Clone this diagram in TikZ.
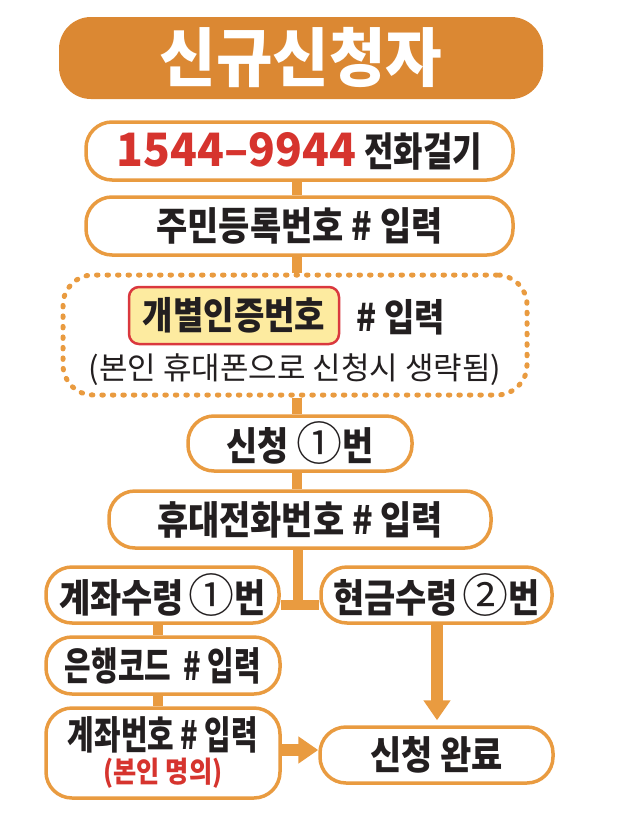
\documentclass[tikz,border=0pt]{standalone}
\usepackage{fontspec}
\usetikzlibrary{arrows.meta,backgrounds,calc}
\newfontfamily\kr[FakeStretch=0.87]{Noto Sans CJK KR}
\newfontfamily\krn[FakeStretch=0.8]{Noto Sans CJK KR}
\newfontfamily\krc[FakeStretch=0.74]{Noto Sans CJK KR}
\newfontfamily\krw{Noto Sans CJK KR}
\newfontfamily\krt[FakeStretch=0.96]{Noto Sans CJK KR}
\newfontfamily\numf[FakeStretch=0.96]{Noto Sans CJK KR}
\newfontfamily\circf{Noto Sans CJK KR}
\definecolor{titleor}{RGB}{219,136,51}
\definecolor{lineor}{RGB}{233,155,64}
\definecolor{numred}{RGB}{214,52,46}
\definecolor{ink}{RGB}{35,31,32}
\definecolor{yelfill}{RGB}{253,235,160}
\definecolor{yelline}{RGB}{218,56,62}
\newcommand{\cnum}[1]{{\circf\mdseries\fontsize{46}{46}\selectfont #1}}
\tikzset{
  box/.style={draw=lineor, line width=3.5pt, fill=white, rounded corners=26pt,
    inner sep=0pt, text=ink, font=\kr\bfseries\fontsize{39}{42}\selectfont},
  conn/.style={draw=lineor, line width=10pt},
  bigarrow/.style={draw=lineor, line width=12pt, -{Triangle[length=20pt,width=26pt]}},
}
\begin{document}
\begin{tikzpicture}[x=1pt,y=-1pt]
\useasboundingbox (0,0) rectangle (618,822);
% title
\node[fill=titleor, rounded corners=32pt, minimum width=484pt, minimum height=82pt,
  inner sep=0pt, text=white, font=\krt\bfseries\fontsize{64}{66}\selectfont]
  (title) at (301,58) {신규신청자};
% main column
\node[box, minimum width=427pt, minimum height=58pt] (b1) at (299.5,151)
  {{\numf\bfseries\color{numred}\fontsize{46}{48}\selectfont 1544–9944}\hspace{8pt}{\krn\fontsize{40}{42}\selectfont 전화걸기}};
\node[box, minimum width=427pt, minimum height=58pt] (b2) at (299.5,226)
  {주민등록번호 \# 입력};
\node[draw=lineor, line width=5pt, dash pattern=on 1.5pt off 9pt, line cap=round,
  fill=white, rounded corners=30pt, minimum width=464pt, minimum height=120pt, inner sep=0pt]
  (d) at (295,335) {};
\node[draw=yelline, line width=2.5pt, fill=yelfill, rounded corners=10pt,
  minimum width=210pt, minimum height=57pt, inner sep=0pt, text=ink,
  font=\kr\bfseries\fontsize{38}{40}\selectfont] (y1) at (234,315.5) {개별인증번호};
\node[inner sep=0pt, text=ink, font=\kr\bfseries\fontsize{38}{40}\selectfont]
  (y2) at (401,317) {\# 입력};
\node[inner sep=0pt, text=ink, font=\krw\fontsize{31}{33}\selectfont]
  (y3) at (295,370) {(본인 휴대폰으로 신청시 생략됨)};
\node[box, minimum width=224pt, minimum height=55pt] (b3) at (300,443.5)
  {신청 \cnum{①}번};
\node[box, minimum width=382pt, minimum height=57pt] (b4) at (300,519.5)
  {휴대전화번호 \# 입력};
% branches
\node[box, minimum width=233pt, minimum height=56pt] (L1) at (162.5,595)
  {계좌수령\hspace{-3pt} \cnum{①}번};
\node[box, minimum width=231pt, minimum height=56pt] (R1) at (436.5,595)
  {현금수령\hspace{-3pt} \cnum{②}번};
\node[box, minimum width=234pt, minimum height=57pt, font=\krc\bfseries\fontsize{39}{42}\selectfont]
  (L2) at (163,665.5) {은행코드\hspace{6pt} \# 입력};
\node[box, minimum width=234pt, minimum height=90pt, align=center,
  font=\krc\bfseries\fontsize{39}{42}\selectfont] (L3) at (163,753)
  {계좌번호 \# 입력\\[-9pt]{\kr\color{numred}\fontsize{29}{31}\selectfont (본인 명의)}};
\node[box, minimum width=233pt, minimum height=56pt] (F) at (436.5,755)
  {신청 완료};
% connectors
\coordinate (sp) at (297,0);
\coordinate (jn) at (298,605);
\coordinate (lsp) at (158,0);
\coordinate (ay) at (0,750);
\coordinate (ax) at (437,0);
\begin{scope}[on background layer]
\draw[conn] (b1.south -| sp) -- (b2.north -| sp);
\draw[conn] (b2.south -| sp) -- (d.north -| sp);
\draw[conn] (d.south -| sp) -- (b3.north -| sp);
\draw[conn] (b3.south -| sp) -- (b4.north -| sp);
\draw[conn] (b4.south -| jn) -- (jn);
\draw[conn] (L1.east |- jn) -- (R1.west |- jn);
\draw[conn] (L1.south -| lsp) -- (L2.north -| lsp);
\draw[conn] (L2.south -| lsp) -- (L3.north -| lsp);
\draw[bigarrow] (L3.east |- ay) -- (F.west |- ay);
\draw[bigarrow, shorten >=5pt] (R1.south -| ax) -- (F.north -| ax);
\end{scope}
\end{tikzpicture}
\end{document}
